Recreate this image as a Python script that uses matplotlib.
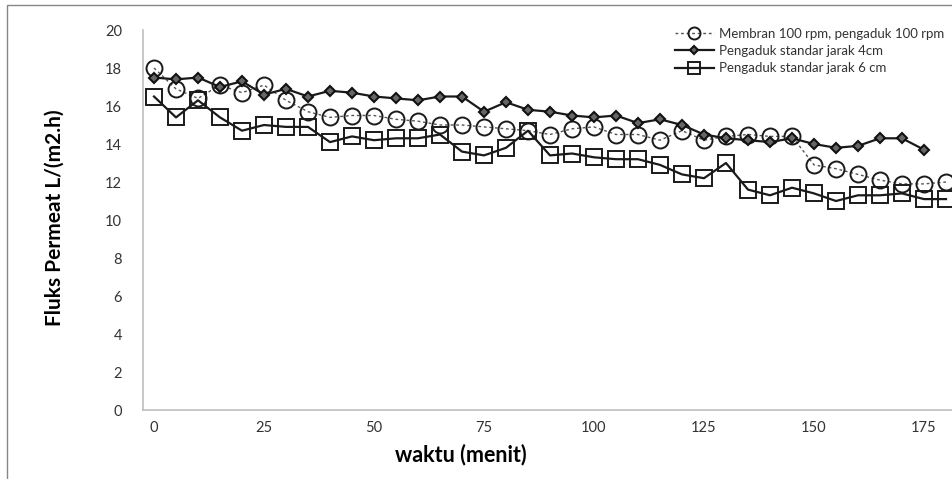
import matplotlib
matplotlib.use("Agg")
import matplotlib.pyplot as plt
from matplotlib.patches import Rectangle

# minutes
waktu = list(range(0, 185, 5))

membran = [18.0, 16.9, 16.4, 17.1, 16.7, 17.1, 16.3, 15.7, 15.4, 15.5,
           15.5, 15.3, 15.2, 15.0, 15.0, 14.9, 14.8, 14.7, 14.5, 14.8,
           14.9, 14.5, 14.5, 14.2, 14.7, 14.2, 14.4, 14.5, 14.4, 14.4,
           12.9, 12.7, 12.4, 12.1, 11.9, 11.9, 12.0]
jarak_4 = [17.5, 17.4, 17.5, 17.0, 17.3, 16.6, 16.9, 16.5, 16.8, 16.7,
           16.5, 16.4, 16.3, 16.5, 16.5, 15.7, 16.2, 15.8, 15.7, 15.5,
           15.4, 15.5, 15.1, 15.3, 15.0, 14.5, 14.3, 14.2, 14.1, 14.3,
           14.0, 13.8, 13.9, 14.3, 14.3, 13.7]
jarak_6 = [16.5, 15.4, 16.3, 15.4, 14.7, 15.0, 14.9, 14.9, 14.1, 14.4,
           14.2, 14.3, 14.3, 14.5, 13.6, 13.4, 13.8, 14.7, 13.4, 13.5,
           13.3, 13.2, 13.2, 12.9, 12.4, 12.2, 13.0, 11.6, 11.3, 11.7,
           11.4, 11.0, 11.3, 11.3, 11.4, 11.1, 11.1]

labels = ["Membran 100 rpm, pengaduk 100 rpm",
          "Pengaduk standar jarak 4cm",
          "Pengaduk standar jarak 6 cm"]
x_ticks = [0, 25, 50, 75, 100, 125, 150, 175]
y_ticks = list(range(0, 21, 2))

W, H = 952, 479
plt.rcParams["font.family"] = ["Lato", "DejaVu Sans"]
fig = plt.figure(figsize=(W / 100, H / 100), dpi=100)

# outer chart frame (only left/top visible in the crop)
fig.patches.append(Rectangle((7 / W, -0.1), 1.2, 1.1 - 5 / H,
                             transform=fig.transFigure, fill=False,
                             edgecolor="#868686", lw=1.0))

ax = fig.add_axes([143 / W, 69 / H, (957 - 143) / W, 380 / H])
ax.plot(waktu, membran, ls=(0, (2, 2)), color="#555555", lw=1.0,
        marker="o", ms=11.5, mfc="none", mec="#1a1a1a", mew=1.4, label=labels[0])
ax.plot(waktu[:len(jarak_4)], jarak_4, ls="-", color="#1a1a1a", lw=1.6,
        marker="D", ms=5.5, mfc="#666666", mec="#111111", mew=1.5, label=labels[1])
ax.plot(waktu, jarak_6, ls="-", color="#1a1a1a", lw=1.6,
        marker="s", ms=11, mfc="none", mec="#1a1a1a", mew=1.4, label=labels[2])

ax.set_xlim(-2.5, 182.5)
ax.set_ylim(0, 20)
ax.set_xticks(x_ticks)
ax.set_yticks(y_ticks)
ax.tick_params(length=0, labelsize=10.5, labelcolor="#333333")
ax.tick_params(axis="y", pad=15)
ax.tick_params(axis="x", pad=8)
for s in ("top", "right"):
    ax.spines[s].set_visible(False)
for s in ("left", "bottom"):
    ax.spines[s].set_color("#bfbfbf")
    ax.spines[s].set_linewidth(1.2)

fig.text(55 / W, 1 - 218 / H, "Fluks Permeat L/(m2.h)", rotation=90,
         ha="center", va="center", fontsize=15, fontweight="bold",
         fontstretch="condensed", family=["Liberation Sans Narrow", "Lato"])
fig.text(461 / W, 1 - 455 / H, "waktu (menit)", ha="center", va="center",
         fontsize=15.5, fontweight="bold")

leg = fig.legend(loc="upper left", bbox_to_anchor=(668 / W, 1 - 21 / H),
                 frameon=False, fontsize=9.5, handlelength=3.0, handletextpad=0.35,
                 labelspacing=0.4, borderpad=0, labelcolor="#333333",
                 markerscale=0.75)

fig.savefig("out.png", dpi=100)
